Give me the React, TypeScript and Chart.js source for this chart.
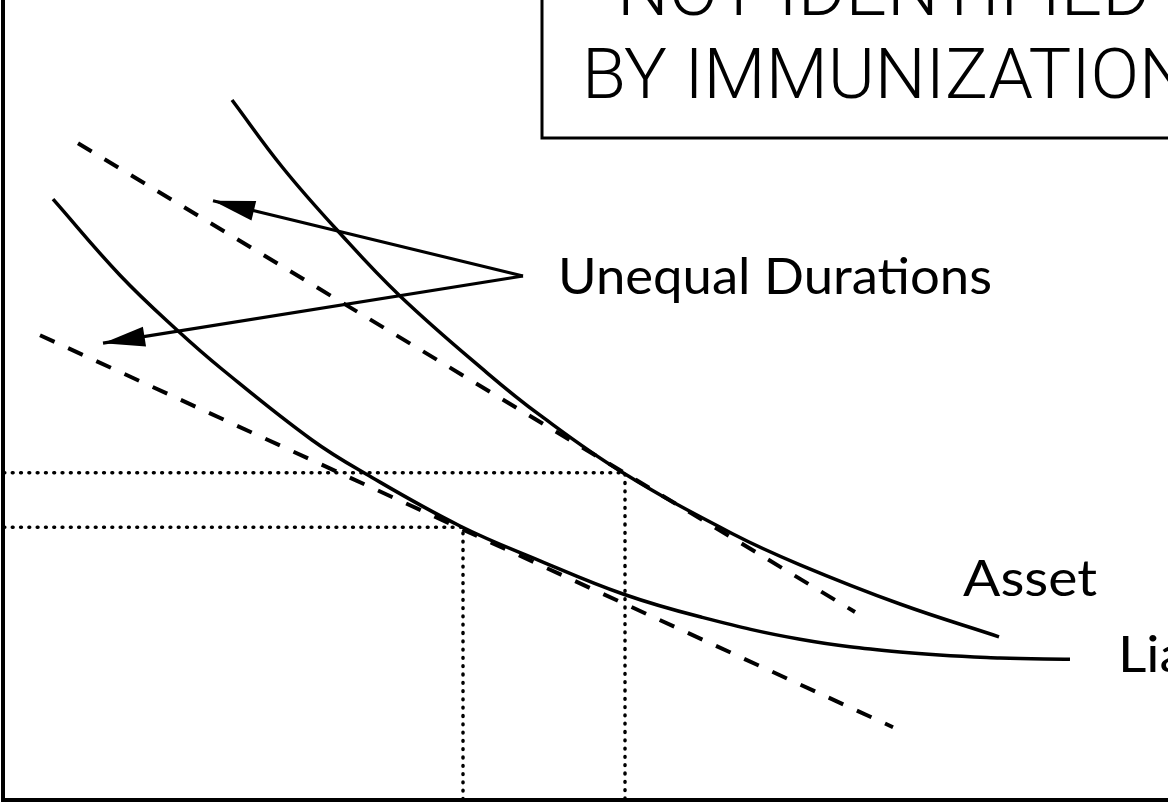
import { useEffect, useRef } from "react";
import { Chart, registerables } from "chart.js";

Chart.register(...registerables);

// ---- data (abstract diagram units: x 0..116.4, y 0..100) ----
const assetX = [22.8, 27.9, 33.3, 39.6, 48.3, 53.6, 61.9, 72.9, 79.6, 89.6, 99.5];
const assetY = [87.5, 79.0, 71.25, 63.0, 53.4, 48.1, 40.9, 33.25, 29.4, 24.5, 20.4];
const liabX = [4.9, 11.6, 17.3, 21.9, 30.8, 36.2, 45.6, 53.6, 61.9, 69.6, 79.6, 89.6, 99.6, 106.6];
const liabY = [75.1, 65.6, 58.75, 53.75, 45.0, 40.75, 34.25, 29.9, 25.75, 22.9, 20.1, 18.5, 17.75, 17.6];
const assetTangentX = [7.4, 85.1];
const assetTangentY = [82.1, 23.5];
const liabTangentX = [3.6, 88.9];
const liabTangentY = [58.1, 9.1];
const tangentPointX = [62.1, 45.9]; // asset, liability
const tangentPointY = [40.9, 34.1];
const arrowFrom = { x: 51.9, y: 65.5 };
const arrowTipX = [20.9, 9.9];
const arrowTipY = [74.9, 57.1];

const titleLines = ["NOT IDENTIFIED", "BY IMMUNIZATION"];
const arrowLabel = "Unequal Durations";
const curveLabels = ["Asset", "Liability"];

const pts = (xs: number[], ys: number[]) => xs.map((x, i) => ({ x, y: ys[i] }));

const overlay = {
  id: "overlay",
  afterDraw(chart: any) {
    const { ctx, chartArea, scales } = chart;
    const X = (v: number) => scales.x.getPixelForValue(v);
    const Y = (v: number) => scales.y.getPixelForValue(v);
    ctx.save();
    ctx.strokeStyle = "#000";
    ctx.fillStyle = "#000";
    ctx.lineCap = "butt";

    // frame (left + bottom visible)
    ctx.lineWidth = 4;
    ctx.beginPath();
    ctx.moveTo(chartArea.left - 1, -10);
    ctx.lineTo(chartArea.left - 1, chartArea.bottom);
    ctx.lineTo(chartArea.right + 10, chartArea.bottom);
    ctx.stroke();

    // arrowheads
    const fx = X(arrowFrom.x), fy = Y(arrowFrom.y);
    arrowTipX.forEach((tx0, i) => {
      const tx = X(tx0), ty = Y(arrowTipY[i]);
      const dx = tx - fx, dy = ty - fy;
      const len = Math.hypot(dx, dy);
      const ux = dx / len, uy = dy / len;
      const bx = tx - ux * 42, by = ty - uy * 42;
      const nx = -uy, ny = ux;
      ctx.beginPath();
      ctx.moveTo(tx, ty);
      ctx.lineTo(bx + nx * 10, by + ny * 10);
      ctx.lineTo(bx - nx * 10, by - ny * 10);
      ctx.closePath();
      ctx.fill();
    });

    // title box
    const boxL = X(53.8), boxB = Y(82.75);
    ctx.fillStyle = "#fff";
    ctx.fillRect(boxL, -20, 2000, boxB + 20);
    ctx.fillStyle = "#000";
    ctx.lineWidth = 3;
    ctx.strokeRect(boxL, -20, 2000, boxB + 20);

    const drawFit = (text: string, x: number, y: number, font: string, width: number | null, scaleOverride?: number) => {
      ctx.save();
      ctx.font = font;
      ctx.textBaseline = "alphabetic";
      ctx.textAlign = "left";
      const w = ctx.measureText(text).width;
      const s = scaleOverride ?? (width ? width / w : 1);
      ctx.translate(x, y);
      ctx.scale(s, 1);
      ctx.fillText(text, 0, 0);
      ctx.restore();
      return s;
    };

    const titleFont = "300 70px Roboto";
    drawFit(titleLines[0], X(61.3), Y(98.1), titleFont, 533);
    drawFit(titleLines[1], X(57.8), Y(87.75), titleFont, 608);

    const labelFont = "400 51px Lato";
    drawFit(arrowLabel, X(55.4), Y(63.25), labelFont, 434);
    const s = drawFit(curveLabels[0], X(95.9), Y(25.5), labelFont, 134);
    drawFit(curveLabels[1], X(111.4), Y(16.0), labelFont, null, s);

    ctx.restore();
  },
};

export default function App() {
  const ref = useRef<HTMLCanvasElement>(null);
  useEffect(() => {
    document.body.style.overflow = "hidden";
    const line = (data: any[], extra: any) => ({
      data,
      showLine: true,
      borderColor: "#000",
      backgroundColor: "#000",
      pointRadius: 0,
      borderWidth: 3.5,
      ...extra,
    });
    const chart = new Chart(ref.current as HTMLCanvasElement, {
      type: "scatter",
      data: {
        datasets: [
          line(pts(assetX, assetY), { label: "Asset", tension: 0.4 }),
          line(pts(liabX, liabY), { label: "Liability", tension: 0.4 }),
          line(pts(assetTangentX, assetTangentY), { label: "Asset duration", borderWidth: 4, borderDash: [16, 15] }),
          line(pts(liabTangentX, liabTangentY), { label: "Liability duration", borderWidth: 4, borderDash: [16, 15] }),
          ...tangentPointX.map((tx, i) =>
            line(
              [
                { x: 0, y: tangentPointY[i] },
                { x: tx, y: tangentPointY[i] },
                { x: tx, y: 0 },
              ],
              { label: "ref" + i, borderWidth: 3.5, borderDash: [0.8, 7.5], borderCapStyle: "round" }
            )
          ),
          ...arrowTipX.map((tx, i) =>
            line(
              [
                { x: arrowFrom.x, y: arrowFrom.y },
                { x: tx, y: arrowTipY[i] },
              ],
              { label: "arrow" + i, borderWidth: 3.2 }
            )
          ),
        ],
      },
      options: {
        animation: false,
        responsive: false,
        layout: { padding: { left: 4, right: 0, top: 0, bottom: 4 } },
        plugins: { legend: { display: false }, tooltip: { enabled: false } },
        scales: {
          x: { type: "linear", display: false, min: 0, max: 116.4 },
          y: { type: "linear", display: false, min: 0, max: 100 },
        },
      },
      plugins: [overlay],
    });
    return () => chart.destroy();
  }, []);
  return (
    <canvas
      ref={ref}
      width={1168}
      height={804}
      style={{ position: "fixed", left: 0, top: 0, display: "block", background: "#fff" }}
    />
  );
}
